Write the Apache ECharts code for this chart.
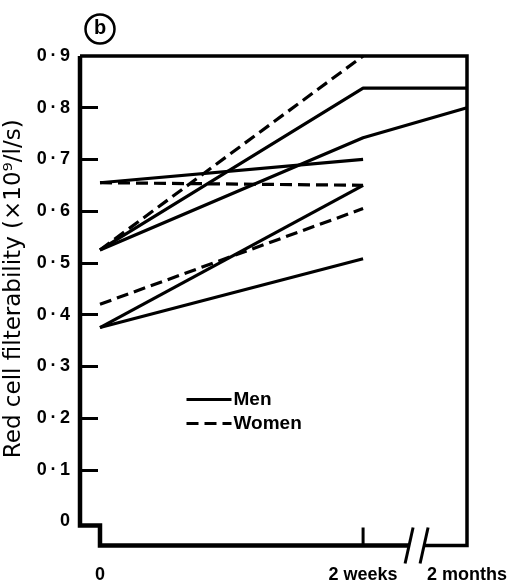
<!DOCTYPE html>
<html><head><meta charset="utf-8">
<script src="https://cdn.jsdelivr.net/npm/echarts@6/dist/echarts.min.js"></script>
<style>html,body{margin:0;padding:0;background:#fff}#c{width:511px;height:586px}</style>
</head><body><div id="c"></div>
<script>
// Time axis (broken): positions in axis units, labels
var timePoints = [0, 2, 2.79];
var timeLabels = ['0', '2 weeks', '2 months'];
var yTicks = [0, 0.1, 0.2, 0.3, 0.4, 0.5, 0.6, 0.7, 0.8, 0.9];

// Series values (red cell filterability, x10^9 l/s) at timePoints
var men1 = [0.525, 0.838, 0.838];
var men2 = [0.525, 0.742, 0.800];
var men3 = [0.655, 0.700];
var men4 = [0.375, 0.650];
var men5 = [0.375, 0.508];
var women1 = [0.525, 0.900];
var women2 = [0.655, 0.650];
var women3 = [0.420, 0.605];

var menSeries = [men1, men2, men3, men4, men5];
var womenSeries = [women1, women2, women3];

function toData(arr){ return arr.map(function(v,i){ return [timePoints[i], v]; }); }

var xMin = -0.152, xMax = 2.79;
var FONT = 'Liberation Sans, Arial, sans-serif';

var series = [];
menSeries.forEach(function(a){
  series.push({type:'line', name:'Men', data:toData(a), symbol:'none', clip:false,
    lineStyle:{color:'#000', width:3.2, type:'solid'}, itemStyle:{color:'#000'}, z:3});
});
womenSeries.forEach(function(a){
  series.push({type:'line', name:'Women', data:toData(a), symbol:'none', clip:false,
    lineStyle:{color:'#000', width:3.2, type:[12,6]}, itemStyle:{color:'#000'}, z:3});
});

var chart = echarts.init(document.getElementById('c'), null, {renderer:'canvas'});
chart.setOption({
  animation:false,
  backgroundColor:'#fff',
  grid:{left:80, right:44, top:56, bottom:64.5, containLabel:false, outerBoundsMode:'none'},
  legend:{
    orient:'vertical', left:185, top:390, itemWidth:45, itemHeight:14, itemGap:5, padding:0,
    data:['Men','Women'],
    itemStyle:{opacity:0},
    lineStyle:{width:3},
    textStyle:{color:'#000', fontSize:19, fontWeight:'bold', fontFamily:FONT, padding:[0,0,0,-3]}
  },
  xAxis:{
    type:'value', min:xMin, max:xMax,
    axisLine:{show:false, onZero:false}, axisTick:{show:false}, splitLine:{show:false},
    axisLabel:{
      customValues: timePoints, margin:45, color:'#000', fontSize:18, fontWeight:'bold', fontFamily:FONT,
      formatter:function(v){
        for (var i=0;i<timePoints.length;i++){ if (Math.abs(timePoints[i]-v)<1e-6) return timeLabels[i]; }
        return '';
      }
    }
  },
  yAxis:{
    type:'value', min:0, max:0.9, interval:0.1,
    name:'Red cell filterability (×10⁹/l/s)', nameLocation:'middle', nameRotate:90, nameGap:49,
    nameTextStyle:{color:'#000', fontSize:23, fontFamily:'DejaVu Sans, sans-serif'},
    axisLine:{show:false, onZero:false}, splitLine:{show:false},
    axisTick:{show:true, inside:true, length:18, customValues: yTicks.slice(1, 9), lineStyle:{color:'#000', width:3}},
    axisLabel:{
      customValues: yTicks, margin:10, color:'#000', fontSize:18, fontWeight:'bold', fontFamily:FONT,
      formatter:function(v){ return v===0 ? '0' : v.toFixed(1).replace('.', '\u2009·\u2009'); }
    }
  },
  series:series
});

function p(x,y){ return chart.convertToPixel({gridIndex:0},[x,y]); }
var L = p(xMin,0)[0], R = p(xMax,0)[0], T = p(0,0.9)[1], B0 = p(0,0)[1];
var x0 = p(timePoints[0],0)[0], x2w = p(timePoints[1],0)[0];
var base = B0 + 24;
var ls = {stroke:'#000', lineWidth:4.5, fill:null, lineJoin:'miter', lineCap:'butt'};
chart.setOption({
  graphic:[
    {type:'polyline', shape:{points:[[L,T],[L,B0+4],[x0,B0+4],[x0,base],[x2w+46,base]]}, style:ls, z:10},
    {type:'polyline', shape:{points:[[x2w+61,base],[R,base],[R,T],[L,T]]}, style:{stroke:'#000', lineWidth:3.5, fill:null}, z:10},
    {type:'line', shape:{x1:x2w+50, y1:B0+6, x2:x2w+42, y2:B0+42}, style:{stroke:'#000', lineWidth:3}, z:10},
    {type:'line', shape:{x1:x2w+65, y1:B0+6, x2:x2w+57, y2:B0+42}, style:{stroke:'#000', lineWidth:3}, z:10},
    {type:'line', shape:{x1:x2w, y1:B0+6, x2:x2w, y2:base}, style:{stroke:'#000', lineWidth:3}, z:10},
    {type:'circle', shape:{cx:x0, cy:T-27, r:14.5}, style:{stroke:'#000', lineWidth:2.5, fill:'#fff'}, z:10},
    {type:'text', x:x0, y:T-28, style:{text:'b', fill:'#000', font:'bold 20px '+FONT, align:'center', verticalAlign:'middle'}, z:11}
  ]
});
</script></body></html>
